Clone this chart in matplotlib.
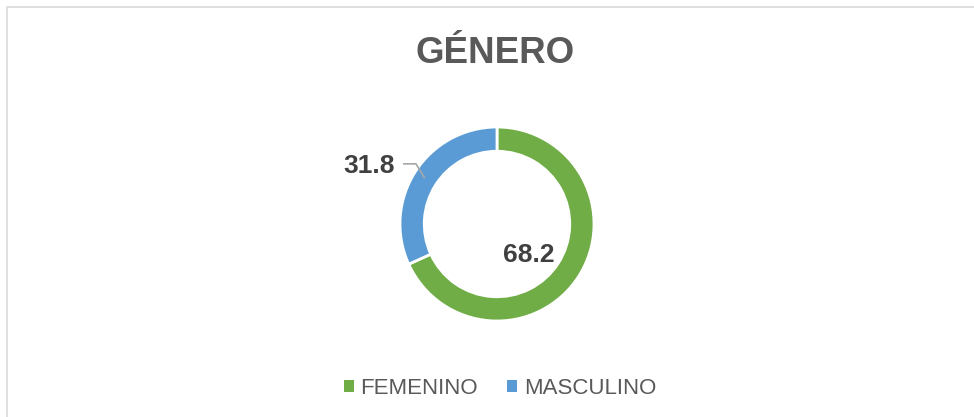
import matplotlib
matplotlib.use("Agg")
import matplotlib.pyplot as plt
from matplotlib.patches import Rectangle
from matplotlib.lines import Line2D

categories = ["FEMENINO", "MASCULINO"]
values = [68.2, 31.8]
colors = ["#70AD47", "#5B9BD5"]
title = "GÉNERO"

plt.rcParams['font.family'] = ['Liberation Sans', 'DejaVu Sans']

W, H = 974, 417
fig = plt.figure(figsize=(W / 100, H / 100), dpi=100)
fig.patch.set_facecolor("white")

# border (partially cropped in reference)
fig.add_artist(Rectangle((7 / W, -0.05), 1.2, 1 - 7 / H + 0.05, transform=fig.transFigure,
                         fill=False, edgecolor="#d9d9d9", linewidth=1.2))

cx, cy, R = 497, 224, 97
ax = fig.add_axes([(cx - R) / W, (H - cy - R) / H, 2 * R / W, 2 * R / H])

wedges, _ = ax.pie(values, colors=colors, startangle=90, counterclock=False, radius=1,
                   wedgeprops=dict(width=0.25, edgecolor="white", linewidth=2))
ax.set_xlim(-1, 1)
ax.set_ylim(-1, 1)
ax.set_aspect("equal")
ax.axis("off")

label_pos = [(0.33, -0.392), (-1.32, 0.526)]
for v, (x, y) in zip(values, label_pos):
    ax.text(x, y, f"{v:.1f}", ha="center", va="baseline", fontsize=19, fontweight="bold",
            color="#404040", clip_on=False)

ax.add_line(Line2D([-0.96, -0.835, -0.75], [0.62, 0.62, 0.48], color="#a6a6a6",
                   linewidth=1.2, clip_on=False))

fig.text(495 / W, 1 - 63 / H, title, ha="center", va="baseline", fontsize=26.5,
         fontweight="bold", color="#595959")

handles = [Rectangle((0, 0), 1, 1, facecolor=c, edgecolor="none") for c in colors]
leg = fig.legend(handles, categories, loc="center", bbox_to_anchor=(500 / W, 1 - 388 / H),
                 ncol=2, frameon=False, fontsize=16, handlelength=0.45, handleheight=0.45,
                 handletextpad=0.3, columnspacing=1.3)
for t in leg.get_texts():
    t.set_color("#595959")

fig.savefig("out.png", dpi=100, facecolor="white")
